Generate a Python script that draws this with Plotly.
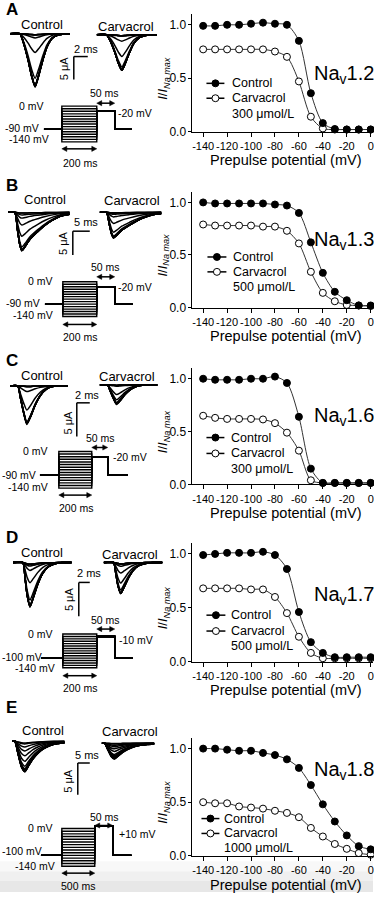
import plotly.graph_objects as go

W, H = 374, 898
FONT = "Liberation Sans, Arial, Helvetica, sans-serif"

# ---------------- data ----------------
prepulse_mv = [-140, -130, -120, -110, -100, -90, -80, -70, -60, -50, -40, -30, -20, -10, 0]
x_tickvals = [-140, -120, -100, -80, -60, -40, -20, 0]
x_ticktext = ["-140", "-120", "-100", "-80", "-60", "-40", "-20", "0"]
y_tickvals = [0.0, 0.5, 1.0]
y_ticktext = ["0.0", "0.5", "1.0"]

panel_letters = ["A", "B", "C", "D", "E"]
channels = ["1.2", "1.3", "1.6", "1.7", "1.8"]
concentrations = ["300 μmol/L", "500 μmol/L", "300 μmol/L", "500 μmol/L", "1000 μmol/L"]

ctrl_A = [0.99, 0.99, 1.00, 1.00, 1.01, 1.02, 1.01, 1.00, 0.85, 0.36, 0.08, 0.025, 0.02, 0.02, 0.02]
carv_A = [0.77, 0.77, 0.77, 0.77, 0.77, 0.77, 0.75, 0.70, 0.47, 0.14, 0.03, 0.02, 0.02, 0.02, 0.02]
ctrl_B = [1.00, 0.99, 0.99, 0.99, 0.99, 0.99, 0.98, 0.97, 0.90, 0.62, 0.33, 0.15, 0.07, 0.02, 0.02]
carv_B = [0.79, 0.78, 0.78, 0.78, 0.78, 0.77, 0.77, 0.73, 0.61, 0.34, 0.14, 0.06, 0.025, 0.02, 0.015]
ctrl_C = [1.00, 0.99, 0.99, 0.99, 1.00, 1.00, 1.02, 0.96, 0.64, 0.15, 0.015, 0.015, 0.015, 0.015, 0.015]
carv_C = [0.65, 0.63, 0.62, 0.62, 0.62, 0.615, 0.58, 0.49, 0.32, 0.04, 0.015, 0.015, 0.015, 0.015, 0.015]
ctrl_D = [0.99, 1.00, 1.01, 1.01, 1.01, 1.02, 0.99, 0.86, 0.46, 0.18, 0.08, 0.04, 0.04, 0.04, 0.04]
carv_D = [0.68, 0.68, 0.68, 0.68, 0.67, 0.67, 0.60, 0.45, 0.23, 0.08, 0.03, 0.03, 0.03, 0.03, 0.03]
ctrl_E = [1.00, 1.00, 0.99, 0.98, 0.98, 0.96, 0.94, 0.90, 0.82, 0.66, 0.48, 0.32, 0.19, 0.09, 0.06]
carv_E = [0.50, 0.49, 0.49, 0.46, 0.45, 0.44, 0.42, 0.40, 0.36, 0.26, 0.18, 0.11, 0.065, 0.025, 0.01]
ctrl_series = [ctrl_A, ctrl_B, ctrl_C, ctrl_D, ctrl_E]
carv_series = [carv_A, carv_B, carv_C, carv_D, carv_E]

# voltage protocols
holding_mv = [-90, -90, -90, -100, -100]
test_mv = [-20, -20, -20, -10, 10]
prepulse_ms = [200, 200, 200, 200, 500]
test_ms = 50

# current traces: peak amplitude (uA) and normalised time course
peak_ctrl_uA = [11.7, 8.1, 5.7, 6.6, 4.8]
peak_carv_uA = [7.8, 5.4, 2.9, 4.6, 2.5]
scale_ms = [2, 5, 2, 2, 5]
scale_uA = 5
shape_t_A = [0, 1.4, 2.0, 2.6, 3.1, 3.6, 4.1, 4.7, 5.3, 6.1, 7.0, 8.6]
shape_i_A = [0, 0, -0.2, -0.5, -0.8, -1.0, -0.8, -0.5, -0.25, -0.08, -0.02, 0]
shape_t_B = [0, 2.0, 2.8, 3.5, 4.1, 5.0, 6.5, 8.8, 11.0, 13.2, 15.5, 18.2]
shape_i_B = [0, 0, -0.45, -0.85, -1.0, -0.9, -0.7, -0.5, -0.33, -0.2, -0.1, -0.05]
shape_t_C = [0, 1.2, 1.6, 2.1, 2.6, 3.2, 3.9, 4.7, 5.5, 6.2, 7.0, 8.9]
shape_i_C = [0, 0, -0.3, -0.7, -1.0, -0.8, -0.5, -0.25, -0.1, -0.03, 0, 0]
shape_t_D = [0, 1.8, 2.2, 2.6, 3.1, 3.7, 4.5, 5.4, 6.4, 7.6, 9.0, 10.7]
shape_i_D = [0, 0, -0.35, -0.75, -1.0, -0.8, -0.5, -0.25, -0.1, -0.03, 0, 0]
shape_t_E = [0, 1.2, 2.5, 4.0, 5.4, 7.0, 8.8, 10.8, 12.9, 16.0, 19.0, 22.0]
shape_i_E = [0, 0, -0.4, -0.85, -1.0, -0.8, -0.58, -0.4, -0.26, -0.14, -0.08, -0.05]
shape_t = [shape_t_A, shape_t_B, shape_t_C, shape_t_D, shape_t_E]
shape_i = [shape_i_A, shape_i_B, shape_i_C, shape_i_D, shape_i_E]

# ---------------- layout geometry (pixels) ----------------
def xp(px):
    return px / W


def yp(py):
    return 1 - py / H


# right plots: pixel of value 0 and value 1
curve_geo = [(132.7, 25), (310, 204), (488.3, 381.7), (666.7, 558.3), (862.5, 754.5)]
CURVE_X0, CURVE_X1 = 193, 374
X_PX_M140, X_PX_0 = 203.7, 371.7

# traces: (ctrl x0, ctrl baseline, carv x0, carv baseline, px/ms, px/uA, scale bar corner x, y)
trace_geo = [
    (10, 34, 97, 35, 7.0, 4.6, 74, 57),
    (8, 214, 100, 214, 3.4, 4.8, 73, 233),
    (10, 389, 100, 388, 6.5, 6.8, 77, 406),
    (13, 567, 104, 567, 5.5, 6.8, 79, 587),
    (12, 747, 102, 749, 2.4, 6.4, 78, 769),
]
# protocol: hold start, rect x0, rect x1, test end, tail end, rect top (0 mV), rect bottom (-140 mV)
proto_geo = [
    (44, 62, 97, 115, 132, 107, 143),
    (45, 63, 97, 115, 133, 284, 319),
    (40, 59, 92, 108, 128, 455, 492),
    (41, 63, 97, 115, 133, 639, 673),
    (41, 62, 95, 113, 132, 835, 873),
]
# label anchors: (x, y, xanchor)
label_geo = [
    dict(L=10, ctl=(42, 25), carv=(126, 27), st=(72, 49), ua=(65, 69), z=(46, 107, "right"),
         h=(41, 129, "right"), b=(51, 140, "right"), t=(116, 114), f=(105, 94, 104), p=(80, 164, 150)),
    dict(L=187, ctl=(45, 201), carv=(132, 202), st=(72, 224), ua=(63, 245), z=(55, 283, "right"),
         h=(42, 305, "right"), b=(55, 317, "right"), t=(116, 289), f=(106, 269, 279), p=(80, 340, 327)),
    dict(L=363, ctl=(42, 378), carv=(127, 379), st=(73, 398), ua=(68, 426), z=(50, 455, "right"),
         h=(38, 479, "right"), b=(50, 491, "right"), t=(111, 461), f=(101, 441, 451), p=(76, 512, 499)),
    dict(L=542, ctl=(42, 557), carv=(130, 559), st=(75, 578), ua=(69, 604), z=(55, 639, "right"),
         h=(0, 662, "left"), b=(57, 673, "right"), t=(117, 645), f=(106, 625, 634), p=(80, 693, 681)),
    dict(L=713, ctl=(43, 736), carv=(130, 737), st=(73, 761), ua=(68, 787), z=(55, 835, "right"),
         h=(0, 858, "left"), b=(57, 873, "right"), t=(117, 841), f=(105, 823, 832), p=(78, 893, 880)),
]
legend_geo = [
    dict(rows=(84, 99, 115), g0=207, g1=225, tx=231),
    dict(rows=(259, 274, 289), g0=208, g1=227, tx=232),
    dict(rows=(441, 457, 473), g0=207, g1=225, tx=230),
    dict(rows=(620, 636, 651), g0=207, g1=226, tx=230),
    dict(rows=(825, 840, 855), g0=202, g1=220, tx=223),
]
nav_y = [75, 242, 420, 600, 777]
PROTO_FONT = 10.5

# ---------------- build ----------------
fig = go.Figure()
layout_axes = {}
shapes = []
annotations = []
axis_counter = [0]


def new_axes(xdom, ydom, xr, yr, xkw=None, ykw=None):
    axis_counter[0] += 1
    n = axis_counter[0]
    suffix = "" if n == 1 else str(n)
    hidden = dict(visible=False, showgrid=False, zeroline=False, fixedrange=True)
    xa = dict(hidden, domain=xdom, range=xr, anchor="y" + suffix)
    ya = dict(hidden, domain=ydom, range=yr, anchor="x" + suffix)
    if xkw:
        xa.update(xkw)
    if ykw:
        ya.update(ykw)
    layout_axes["xaxis" + suffix] = xa
    layout_axes["yaxis" + suffix] = ya
    return "x" + suffix, "y" + suffix


def text(t, x, y, xanchor="center", size=11.5, angle=0, bold=False):
    annotations.append(dict(
        text=("<b>%s</b>" % t) if bold else t, x=xp(x), y=yp(y), xref="paper", yref="paper",
        xanchor=xanchor, yanchor="middle", showarrow=False, textangle=angle,
        font=dict(family=FONT, size=size, color="black")))


def line(x0, y0, x1, y1, width=1.5):
    shapes.append(dict(type="line", xref="paper", yref="paper", x0=xp(x0), y0=yp(y0), x1=xp(x1), y1=yp(y1),
                       line=dict(color="black", width=width)))


def harrow(x0, x1, y):
    line(x0 + 3, y, x1 - 3, y, 1.5)
    hl, hw = 5, 2.6
    for tip, d in ((x0, 1), (x1, -1)):
        path = "M %f,%f L %f,%f L %f,%f Z" % (xp(tip), yp(y), xp(tip + d * hl), yp(y - hw),
                                             xp(tip + d * hl), yp(y + hw))
        shapes.append(dict(type="path", xref="paper", yref="paper", path=path,
                           fillcolor="black", line=dict(color="black", width=0.5)))


def circle(cx, cy, r, fill):
    shapes.append(dict(type="circle", xref="paper", yref="paper", x0=xp(cx - r), x1=xp(cx + r),
                       y0=yp(cy + r), y1=yp(cy - r), fillcolor=fill, line=dict(color="black", width=1)))


# gray band at the bottom of the picture
for (a, b, c) in ((868, 878, "#f8f8f8"), (878, 888, "#f0f0f0"), (888, 899, "#e7e7e7")):
    shapes.append(dict(type="rect", xref="paper", yref="paper", x0=0, x1=1, y0=yp(b), y1=yp(a),
                       fillcolor=c, line=dict(width=0), layer="below"))

px_per_mv = (X_PX_0 - X_PX_M140) / 140.0
x_range = [-140 - (X_PX_M140 - CURVE_X0) / px_per_mv, 0 + (CURVE_X1 - X_PX_0) / px_per_mv]

for k in range(5):
    # ---------- inactivation curves ----------
    p0, p1 = curve_geo[k]
    unit = p0 - p1
    ytop_val = 1.1
    xa, ya = new_axes(
        [xp(CURVE_X0), xp(CURVE_X1)], [yp(p0), yp(p0 - ytop_val * unit)], x_range, [0, ytop_val],
        xkw=dict(visible=True, showline=True, linecolor="black", linewidth=1, ticks="outside", ticklen=4,
                 tickwidth=1, tickcolor="black", tickvals=x_tickvals, ticktext=x_ticktext, tickangle=0,
                 ticklabeloverflow="allow",
                 tickfont=dict(family=FONT, size=11, color="black")),
        ykw=dict(visible=True, showline=True, linecolor="black", linewidth=1, ticks="outside", ticklen=3,
                 tickwidth=1, tickcolor="black", tickvals=y_tickvals, ticktext=y_ticktext,
                 tickfont=dict(family=FONT, size=12, color="black")))
    fig.add_trace(go.Scatter(x=prepulse_mv, y=carv_series[k], xaxis=xa, yaxis=ya, mode="lines+markers",
                             line=dict(color="#333333", width=1, shape="spline", smoothing=0.8),
                             marker=dict(symbol="circle", size=7, color="white", line=dict(color="black", width=1)),
                             cliponaxis=False, showlegend=False))
    fig.add_trace(go.Scatter(x=prepulse_mv, y=ctrl_series[k], xaxis=xa, yaxis=ya, mode="lines+markers",
                             line=dict(color="#333333", width=1, shape="spline", smoothing=0.8),
                             marker=dict(symbol="circle", size=7, color="black", line=dict(color="black", width=1)),
                             cliponaxis=False, showlegend=False))
    text("Prepulse potential (mV)", (X_PX_M140 + X_PX_0) / 2 - 1, p0 + 29, size=14.5)
    text("<i>I</i>/<i>I</i><sub><i>Na max</i></sub>", 164, p0 - 0.5 * unit, size=13, angle=-90)
    annotations.append(dict(text="Na<sub>v</sub>1." + channels[k].split(".")[1], x=xp(313), y=yp(nav_y[k]),
                            xref="paper", yref="paper", xanchor="left", yanchor="middle", showarrow=False,
                            font=dict(family=FONT, size=20, color="black")))
    # legend
    lg = legend_geo[k]
    for row, fill in ((lg["rows"][0], "black"), (lg["rows"][1], "white")):
        line(lg["g0"], row, lg["g1"], row, 1.5)
        circle((lg["g0"] + lg["g1"]) / 2, row, 3.5, fill)
    text("Control", lg["tx"], lg["rows"][0], "left", 12.5)
    text("Carvacrol", lg["tx"], lg["rows"][1], "left", 12.5)
    text(concentrations[k], lg["tx"], lg["rows"][2], "left", 12.5)

    # ---------- current traces ----------
    cx0, cbase, kx0, kbase, sx, sy, bx, by = trace_geo[k]
    t_end = shape_t[k][-1]
    for x0, base, peak, h in ((cx0, cbase, peak_ctrl_uA[k], ctrl_series[k]),
                              (kx0, kbase, peak_carv_uA[k], carv_series[k])):
        xa, ya = new_axes([xp(x0), xp(x0 + t_end * sx)], [yp(base + 60), yp(base - 4)],
                          [0, t_end], [-60 / sy, 4 / sy])
        hmax = max(h)
        xs, ys = [], []
        for hv in h:
            xs += shape_t[k] + [None]
            ys += [peak * hv / hmax * s for s in shape_i[k]] + [None]
        fig.add_trace(go.Scatter(x=xs, y=ys, xaxis=xa, yaxis=ya, mode="lines",
                                 line=dict(color="black", width=1.5, shape="spline", smoothing=0.6),
                                 showlegend=False, hoverinfo="skip"))
    # scale bar
    line(bx, by, bx + scale_ms[k] * sx, by, 1.5)
    line(bx, by, bx, by + scale_uA * sy, 1.5)

    # ---------- voltage protocol ----------
    hs, r0, r1, te, tl, top, bot = proto_geo[k]
    s = (bot - top) / 140.0
    xa, ya = new_axes([xp(hs), xp(tl)], [yp(bot + 3), yp(top - 14)], [0, tl - hs],
                      [-140 - 3 / s, 14 / s])
    xs, ys = [], []
    for v in prepulse_mv:
        xs += [0, r0 - hs, r0 - hs, r1 - hs, r1 - hs, te - hs, te - hs, tl - hs, None]
        ys += [holding_mv[k], holding_mv[k], v, v, test_mv[k], test_mv[k], holding_mv[k], holding_mv[k], None]
    fig.add_trace(go.Scatter(x=xs, y=ys, xaxis=xa, yaxis=ya, mode="lines",
                             line=dict(color="black", width=1.4), showlegend=False, hoverinfo="skip"))

    # ---------- left labels ----------
    g = label_geo[k]
    text(panel_letters[k], 4, g["L"], "left", 17, bold=True)
    text("Control", g["ctl"][0], g["ctl"][1], "center", 13)
    text("Carvacrol", g["carv"][0], g["carv"][1], "center", 13)
    text("%d ms" % scale_ms[k], g["st"][0], g["st"][1], "left", 11)
    text("%d μA" % scale_uA, g["ua"][0], g["ua"][1], "center", 11, angle=-90)
    text("0 mV", g["z"][0], g["z"][1], g["z"][2], PROTO_FONT)
    text("%d mV" % holding_mv[k], g["h"][0], g["h"][1], g["h"][2], PROTO_FONT)
    text("%d mV" % prepulse_mv[0], g["b"][0], g["b"][1], g["b"][2], PROTO_FONT)
    tv = test_mv[k]
    text(("+%d mV" % tv) if tv > 0 else ("%d mV" % tv), g["t"][0], g["t"][1], "left", PROTO_FONT)
    text("%d ms" % test_ms, g["f"][0], g["f"][1], "center", PROTO_FONT)
    harrow(r1, te, g["f"][2])
    text("%d ms" % prepulse_ms[k], g["p"][0], g["p"][1], "center", PROTO_FONT)
    harrow(r0, r1, g["p"][2])

fig.update_layout(
    width=W, height=H, margin=dict(l=0, r=0, t=0, b=0),
    paper_bgcolor="white", plot_bgcolor="rgba(0,0,0,0)",
    showlegend=False, shapes=shapes, annotations=annotations,
    font=dict(family=FONT, color="black"),
    **layout_axes,
)
fig.write_html("out.html", config={"displayModeBar": False},
               post_script="document.body.style.margin='0px';document.body.style.overflow='hidden';")
